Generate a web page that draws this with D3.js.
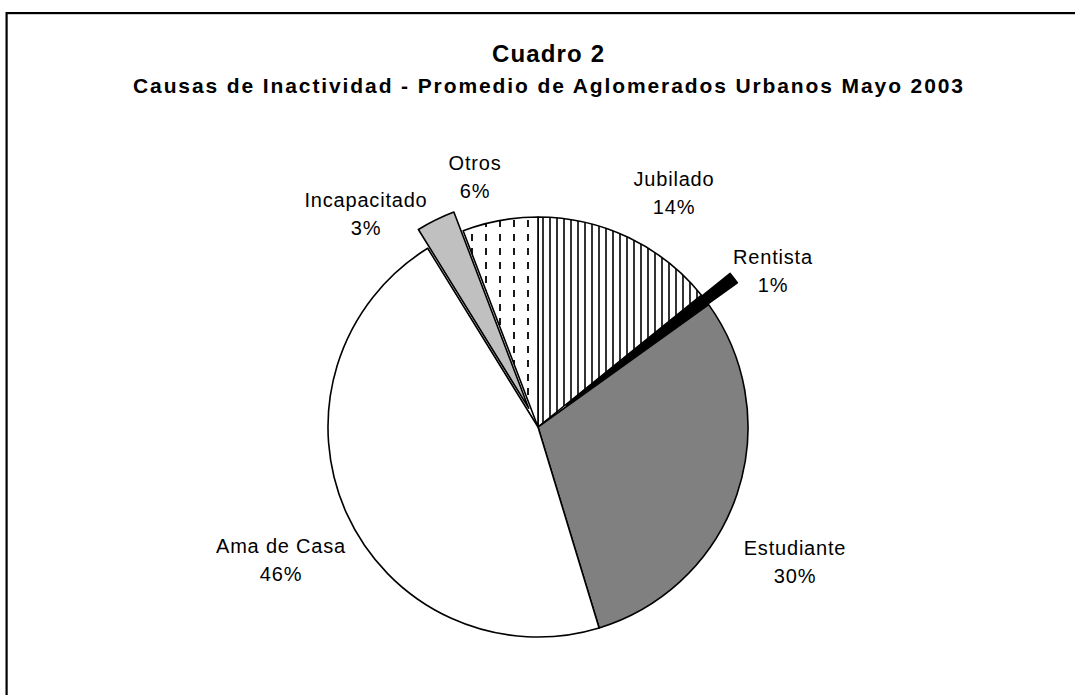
<!DOCTYPE html>
<html>
<head>
<meta charset="utf-8">
<script src="https://cdn.jsdelivr.net/npm/d3@7"></script>
<style>
  html, body { margin: 0; padding: 0; background: #ffffff; }
  svg { display: block; }
  text { font-family: "Liberation Sans", Arial, sans-serif; fill: #000; }
</style>
</head>
<body>
<svg id="chart" width="1075" height="695"></svg>
<script>
// ---- data ----
const categories = ["Jubilado", "Rentista", "Estudiante", "Ama de Casa", "Incapacitado", "Otros"];
const values = [14.2, 0.9, 30.2, 45.9, 3.0, 5.8];
const percentLabels = ["14%", "1%", "30%", "46%", "3%", "6%"];
const titleText = "Cuadro 2";
const subtitleText = "Causas de Inactividad - Promedio de Aglomerados Urbanos Mayo 2003";

// ---- layout / style ----
const W = 1075, H = 695;
const cx = 538, cy = 427, R = 210;
const explode = [0, 36, 0, 0, 21, 0];
const fills = ["url(#vlines)", "#000000", "#808080", "#ffffff", "#c0c0c0", "url(#vdash)"];
// label anchor offsets from pie centre (first line baseline)
const labelPos = [[136, -241], [235, -163], [257, 128], [-257, 126], [-172, -220], [-63, -257]];

const svg = d3.select("#chart");
svg.append("rect").attr("width", W).attr("height", H).attr("fill", "#fff");

// frame
svg.append("rect").attr("x", 7.5).attr("y", 14).attr("width", 1200).attr("height", 900)
  .attr("fill", "none").attr("stroke", "#9a9a9a").attr("stroke-width", 1);
svg.append("rect").attr("x", 6.5).attr("y", 13).attr("width", 1200).attr("height", 900)
  .attr("fill", "none").attr("stroke", "#000").attr("stroke-width", 2);

// patterns
const defs = svg.append("defs");
const p1 = defs.append("pattern").attr("id", "vlines").attr("patternUnits", "userSpaceOnUse")
  .attr("width", 7).attr("height", 7);
p1.append("rect").attr("width", 7).attr("height", 7).attr("fill", "#fff");
p1.append("line").attr("x1", 5).attr("x2", 5).attr("y1", 0).attr("y2", 7)
  .attr("stroke", "#000").attr("stroke-width", 1.6);

const p2 = defs.append("pattern").attr("id", "vdash").attr("patternUnits", "userSpaceOnUse")
  .attr("width", 14).attr("height", 14);
p2.append("rect").attr("width", 14).attr("height", 14).attr("fill", "#fff");
p2.append("line").attr("x1", 4).attr("x2", 4).attr("y1", 3).attr("y2", 10)
  .attr("stroke", "#000").attr("stroke-width", 1.8);

// titles
svg.append("text").attr("x", 548).attr("y", 62).attr("text-anchor", "middle")
  .attr("font-size", 24).attr("font-weight", "bold")
  .attr("textLength", 112).attr("lengthAdjust", "spacing").text(titleText);
svg.append("text").attr("x", 548).attr("y", 93).attr("text-anchor", "middle")
  .attr("font-size", 21).attr("font-weight", "bold")
  .attr("textLength", 830).attr("lengthAdjust", "spacing").text(subtitleText);

// pie
const pie = d3.pie().sort(null).value(d => d.v);
const arcs = pie(categories.map((c, i) => ({ c, v: values[i], i })));
const arc = d3.arc().innerRadius(0).outerRadius(R);

const g = svg.append("g").attr("transform", `translate(${cx},${cy})`);
const order = arcs.slice().sort((a, b) => (explode[a.data.i] > 0) - (explode[b.data.i] > 0));
g.selectAll("path").data(order).enter().append("path")
  .attr("d", arc)
  .attr("transform", d => {
    const m = (d.startAngle + d.endAngle) / 2, o = explode[d.data.i];
    return `translate(${Math.sin(m) * o},${-Math.cos(m) * o})`;
  })
  .attr("fill", d => fills[d.data.i])
  .attr("stroke", "#000").attr("stroke-width", 1.6).attr("stroke-linejoin", "round");

// labels
const lg = svg.append("g").attr("transform", `translate(${cx},${cy})`);
arcs.forEach(d => {
  const i = d.data.i;
  const t = lg.append("text").attr("text-anchor", "middle").attr("font-size", 20)
    .attr("letter-spacing", "0.8px");
  t.append("tspan").attr("x", labelPos[i][0]).attr("y", labelPos[i][1]).text(categories[i]);
  t.append("tspan").attr("x", labelPos[i][0]).attr("y", labelPos[i][1] + 28).text(percentLabels[i]);
});
</script>
</body>
</html>
